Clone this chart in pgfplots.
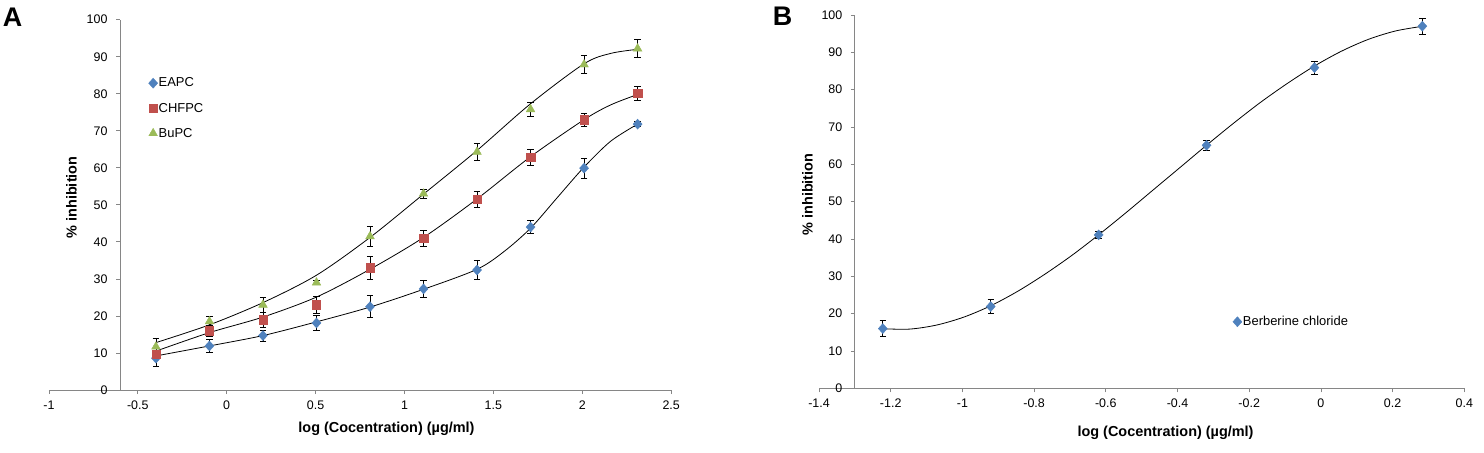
\documentclass[border=0pt]{standalone}
\usepackage{pgfplots}
\usepackage{pgfplotstable}
\pgfplotsset{compat=1.18}
\usepackage{fontspec}
\setmainfont{Liberation Sans}
\definecolor{cblue}{HTML}{4F81BD}
\definecolor{cred}{HTML}{C0504D}
\definecolor{cgreen}{HTML}{9BBB59}
\definecolor{axgray}{HTML}{868686}

% measured points: x = log concentration, y = % inhibition, e = error
\pgfplotstableread{
x y e
-0.398 8.6 2.2
-0.097 11.9 1.7
0.204 14.7 1.5
0.505 18.1 2.0
0.806 22.5 3.0
1.107 27.3 2.3
1.408 32.4 2.6
1.709 44.0 1.8
2.010 59.9 2.7
2.311 71.8 0.7
}\eapc
\pgfplotstableread{
x y e
-0.398 9.7 1.5
-0.097 16.0 1.5
0.204 19.0 2.0
0.505 23.0 2.2
0.806 33.0 3.2
1.107 41.0 2.2
1.408 51.5 2.2
1.709 62.9 2.2
2.010 73.0 1.7
2.311 80.1 1.8
}\chfpc
\pgfplotstableread{
x y e
-0.398 11.7 2.3
-0.097 18.5 1.3
0.204 23.0 2.1
0.505 29.0 0.5
0.806 41.5 2.8
1.107 53.0 1.3
1.408 64.3 2.2
1.709 75.8 2.0
2.010 87.9 2.4
2.311 92.2 2.4
}\bupc
\pgfplotstableread{
x y e
-1.222 16.0 2.2
-0.921 21.9 1.8
-0.620 41.1 1.0
-0.319 65.1 1.3
-0.018 85.9 1.7
0.283 97.0 2.1
}\berb

% fitted curves
\pgfplotstableread{
x y
-0.398 9.2
-0.097 11.9
0.204 14.7
0.505 18.4
0.806 22.4
1.107 27.2
1.408 32.6
1.560 37.4
1.709 43.7
1.860 52.0
2.010 60.2
2.160 67.2
2.311 71.8
}\eapcfit
\pgfplotstableread{
x y
-0.398 10.5
-0.097 15.5
0.204 19.7
0.505 25.1
0.806 32.6
1.107 41.2
1.408 51.6
1.709 63.0
2.010 73.0
2.160 77.0
2.311 79.8
}\chfpcfit
\pgfplotstableread{
x y
-0.398 12.8
-0.097 17.6
0.204 23.6
0.505 31.0
0.806 41.2
1.107 52.9
1.408 64.7
1.709 77.3
2.010 88.1
2.160 90.9
2.311 92.0
}\bupcfit
\pgfplotstableread{
x y
-1.222 15.95
-1.147 15.86
-1.072 16.94
-0.996 19.07
-0.921 22.11
-0.846 25.97
-0.771 30.50
-0.695 35.58
-0.620 41.11
-0.545 46.94
-0.470 52.97
-0.394 59.07
-0.319 65.11
-0.244 70.98
-0.169 76.56
-0.093 81.71
-0.018 86.33
0.057 90.29
0.132 93.46
0.208 95.72
0.283 96.97
}\berbfit

\pgfplotsset{
  myaxis/.style={
    scale only axis, anchor=south west,
    axis x line*=bottom, axis y line*=left,
    axis line style={axgray, line width=0.8bp},
    tick style={axgray, line width=0.8bp},
    tick align=outside, major tick length=4bp,
    ymin=0, ymax=100, ytick={0,10,...,100},
    tick label style={font=\fontsize{12.5}{14}\selectfont},
    yticklabel style={xshift=-5bp},
    xticklabel style={yshift=-3bp},
    /pgf/number format/assume math mode=true,
    label style={font=\bfseries\fontsize{14.5}{16}\selectfont},
    clip=false,
    legend cell align=left,
    legend image code/.code={\draw[##1] plot coordinates {(0bp,0bp)};},
  },
  ebar/.style={error bars/.cd, y dir=both, y explicit,
    error bar style={black, line width=0.8bp},
    error mark options={black, rotate=90, mark size=3.2bp, line width=0.8bp}},
  fitline/.style={black, line width=0.8bp, smooth, no marks, forget plot},
  dia/.style={only marks, mark=diamond*, mark size=5bp, mark options={xscale=1.2}},
}

\begin{document}
\begin{tikzpicture}
\path[use as bounding box] (0,0) rectangle (1484bp,453bp);
\node[anchor=north west, inner sep=0pt, font=\bfseries\fontsize{27}{30}\selectfont] at (2.7bp,445.7bp) {A};
\node[anchor=north west, inner sep=0pt, font=\bfseries\fontsize{27}{30}\selectfont] at (772.7bp,446.3bp) {B};

\begin{axis}[myaxis,
  at={(48.9bp,63bp)}, width=622.3bp, height=370.3bp,
  xmin=-1, xmax=2.5, xtick={-1,-0.5,0,0.5,1,1.5,2,2.5},
  axis y line shift=-71.1bp,
  xlabel={log (Cocentration) (µg/ml)},
  ylabel={\% inhibition},
  xlabel style={at={(axis description cs:0.5425,-0.116)}, anchor=base},
  ylabel style={at={(axis description cs:0.0363,0.52)}, anchor=center},
  legend style={at={(axis cs:-0.44,84.6)}, anchor=north west, draw=none, fill=none,
    font=\fontsize{13}{15}\selectfont, row sep=12.5bp, inner sep=0pt, nodes={inner sep=1bp}},
]
\addplot[dia, color=cblue, ebar] table[x=x,y=y,y error=e] {\eapc};
\addlegendentry{EAPC}
\addplot[only marks, mark=square*, mark size=4.2bp, color=cred, ebar] table[x=x,y=y,y error=e] {\chfpc};
\addlegendentry{CHFPC}
\addplot[only marks, mark=triangle*, mark size=5bp, color=cgreen, ebar] table[x=x,y=y,y error=e] {\bupc};
\addlegendentry{BuPC}
\addplot[fitline] table[x=x,y=y] {\eapcfit};
\addplot[fitline] table[x=x,y=y] {\chfpcfit};
\addplot[fitline] table[x=x,y=y] {\bupcfit};
\end{axis}

\begin{axis}[myaxis,
  at={(819bp,64.7bp)}, width=645.3bp, height=373.3bp,
  xmin=-1.4, xmax=0.4, xtick={-1.4,-1.2,-1,-0.8,-0.6,-0.4,-0.2,0,0.2,0.4},
  axis y line shift=-35.85bp,
  xlabel={log (Cocentration) (µg/ml)},
  ylabel={\% inhibition},
  xlabel style={at={(axis description cs:0.537,-0.130)}, anchor=base},
  ylabel style={at={(axis description cs:-0.0178,0.519)}, anchor=center},
  legend style={at={(axis cs:-0.246,19.6)}, anchor=north west, draw=none, fill=none,
    font=\fontsize{13}{15}\selectfont, inner sep=0pt, nodes={inner sep=1bp}},
]
\addplot[dia, color=cblue, ebar] table[x=x,y=y,y error=e] {\berb};
\addlegendentry{Berberine chloride}
\addplot[fitline] table[x=x,y=y] {\berbfit};
\end{axis}
\end{tikzpicture}
\end{document}
